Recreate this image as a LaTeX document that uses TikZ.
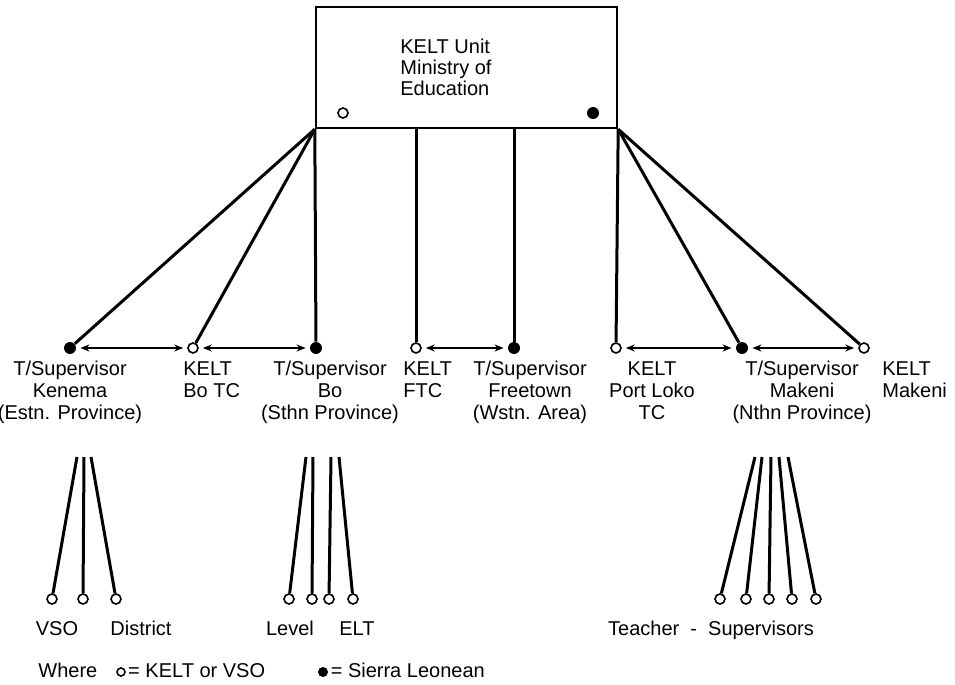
\documentclass[tikz,border=0pt]{standalone}
\usepackage{fontspec}
\setmainfont{Liberation Sans}
\usetikzlibrary{arrows.meta,positioning}
\begin{document}
\begin{tikzpicture}[
    x=0.5pt, y=-0.5pt,
    unit/.style={
        rectangle, draw=black, line width=1.2pt,
        minimum width=150.5pt, minimum height=60.5pt, inner sep=0pt
    },
    sl/.style={circle, fill=black, inner sep=0pt, minimum size=6pt},
    kelt/.style={circle, draw=black, line width=0.8pt, fill=white,
        inner sep=0pt, minimum size=5pt},
    link/.style={line width=1.5pt, black},
    arr/.style={{Stealth[length=4.5pt,width=3.5pt]}-{Stealth[length=4.5pt,width=3.5pt]},
        line width=1pt, shorten <=2pt, shorten >=2pt},
    lbl/.style={font=\fontsize{10}{11}\selectfont, align=center,
        inner sep=0pt, anchor=base},
    lbll/.style={lbl, align=left, anchor=base west}
]
\useasboundingbox (0,0) rectangle (955,685);

% --- KELT Unit (top) ---
\node[unit] (moe) at (466.5,67.5) {};
\node[lbll, font=\fontsize{10}{10.5}\selectfont] (moetext) at (400,96)
    {KELT Unit\\Ministry of\\Education};
\node[kelt] (moeo) at (343,113) {};
\node[sl] (moed) at (593,113) {};

% --- Second row ---
\node[sl]   (ken)  at (70,348)  {};
\node[kelt] (botc) at (193,348) {};
\node[sl]   (bo)   at (316,348) {};
\node[kelt] (ftc)  at (416,348) {};
\node[sl]   (fre)  at (514,348) {};
\node[kelt] (plk)  at (616,348) {};
\node[sl]   (mak)  at (742,348) {};
\node[kelt] (kmak) at (864,348) {};

% (base = last line)
\node[lbl]  (kenlbl)  at (70,419)  {T/Supervisor\\Kenema\\(Estn. Province)};
\node[lbll] (botclbl) at (183,397) {KELT\\Bo TC};
\node[lbl]  (bolbl)   at (330,419) {T/Supervisor\\Bo\\(Sthn Province)};
\node[lbll] (ftclbl)  at (403,397) {KELT\\FTC};
\node[lbl]  (frelbl)  at (530,419) {T/Supervisor\\Freetown\\(Wstn. Area)};
\node[lbl]  (plklbl)  at (652,419) {KELT\\Port Loko\\TC};
\node[lbl]  (maklbl)  at (802,419) {T/Supervisor\\Makeni\\(Nthn Province)};
\node[lbll] (kmaklbl) at (882,397) {KELT\\Makeni};

% --- Links from the unit ---
\draw[link] (moe.south west) -- (ken);
\draw[link] (moe.south west) -- (botc);
\draw[link] (moe.south west) -- (bo);
\draw[link] (ftc |- moe.south) -- (ftc);
\draw[link] (fre |- moe.south) -- (fre);
\draw[link] (moe.south east) -- (plk);
\draw[link] (moe.south east) -- (mak);
\draw[link] (moe.south east) -- (kmak);

% --- Arrows between the posts ---
\draw[arr] (ken) -- (botc);
\draw[arr] (botc) -- (bo);
\draw[arr] (ftc) -- (fre);
\draw[arr] (plk) -- (mak);
\draw[arr] (mak) -- (kmak);

% --- Fans ---
\foreach \t/\b [count=\i] in {77/52, 84/83, 91/116} {
    \coordinate (kent\i) at (\t,457);
    \node[kelt] (kenv\i) at (\b,599) {};
    \draw[link] (kent\i) -- (kenv\i);
}
\foreach \t/\b [count=\i] in {306/289, 313/312, 331/329, 339/353} {
    \coordinate (bot\i) at (\t,457);
    \node[kelt] (bov\i) at (\b,599) {};
    \draw[link] (bot\i) -- (bov\i);
}
\foreach \t/\b [count=\i] in {755/720, 762/746, 771/769, 779/792, 788/816} {
    \coordinate (makt\i) at (\t,457);
    \node[kelt] (makv\i) at (\b,599) {};
    \draw[link] (makt\i) -- (makv\i);
}

\node[lbl] (vso)   at (57,635)  {VSO};
\node[lbl] (dist)  at (141,635) {District};
\node[lbl] (level) at (290,635) {Level};
\node[lbl] (elt)   at (357,635) {ELT};
\node[lbl] (tsup)  at (711,635) {Teacher\ \ -\ \ Supervisors};

% --- Key ---
\node[lbll] (where) at (38,677) {Where};
\node[kelt, minimum size=4pt] (keyo) at (121,672) {};
\node[lbll] (keyotext) at ([xshift=1pt]keyo.east |- where.base) {= KELT or VSO};
\node[sl, minimum size=5pt] (keyd) at (323,672) {};
\node[lbll] (keydtext) at ([xshift=1pt]keyd.east |- where.base) {= Sierra Leonean};

\end{tikzpicture}
\end{document}
